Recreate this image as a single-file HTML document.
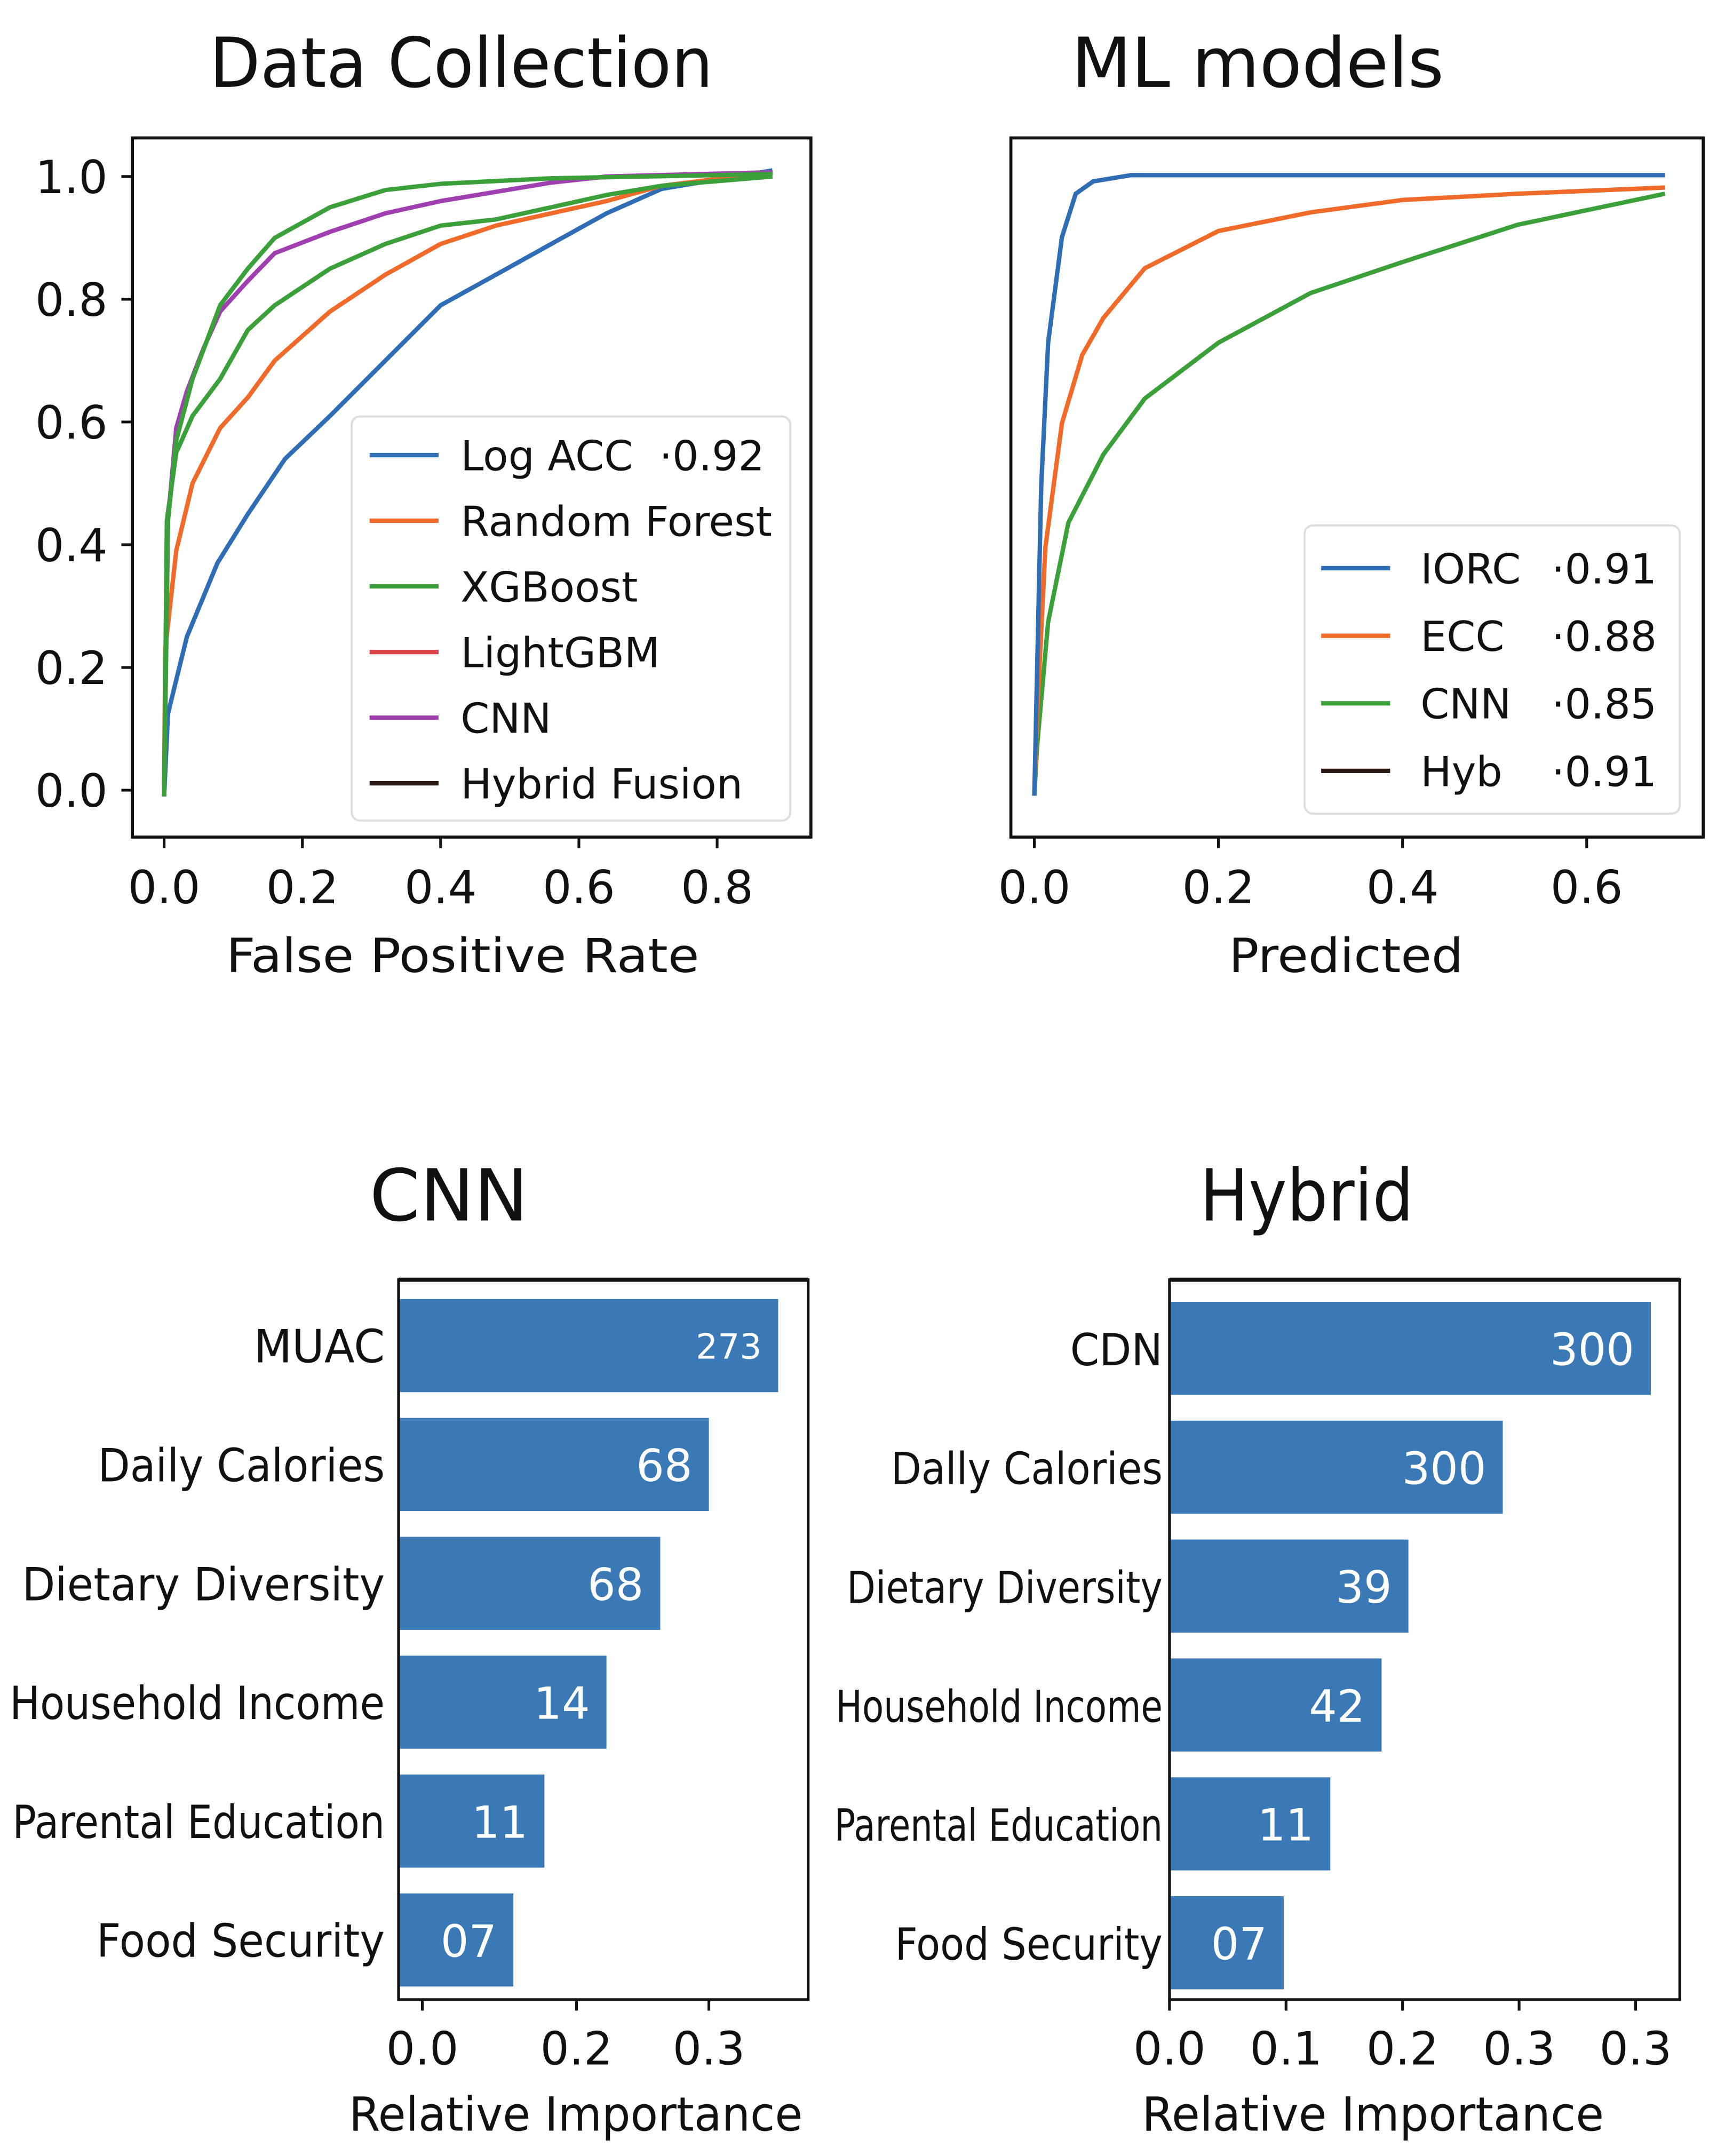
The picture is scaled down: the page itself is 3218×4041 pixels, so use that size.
<!DOCTYPE html>
<html><head><meta charset="utf-8"><style>
html,body{margin:0;padding:0;background:#fff;}
svg{display:block;}
text{font-family:"DejaVu Sans","Liberation Sans",sans-serif;}
</style></head><body>
<svg id="fig" width="3218" height="4041" viewBox="0 0 1245 1563.4" xmlns="http://www.w3.org/2000/svg" fill="#111">
<rect width="1245" height="1564" fill="#fff"/>
<g id="tl">
<text x="152" y="63" font-size="50" textLength="365" lengthAdjust="spacingAndGlyphs">Data Collection</text>
<rect x="96" y="100" width="492" height="507" fill="none" stroke="#111" stroke-width="2.2"/>
<text x="164" y="705" font-size="34" textLength="343" lengthAdjust="spacingAndGlyphs">False Positive Rate</text>
</g>
<g id="tr">
<text x="777" y="63" font-size="50" textLength="270" lengthAdjust="spacingAndGlyphs">ML models</text>
<rect x="733" y="100" width="502" height="507" fill="none" stroke="#111" stroke-width="2.2"/>
<text x="891" y="705" font-size="34" textLength="170" lengthAdjust="spacingAndGlyphs">Predicted</text>
</g>
<g id="bl">
<text x="268" y="885" font-size="52" textLength="115" lengthAdjust="spacingAndGlyphs">CNN</text>
<text x="253" y="1545" font-size="34" textLength="329" lengthAdjust="spacingAndGlyphs">Relative Importance</text>
</g>
<g id="br">
<text x="870" y="885" font-size="52" textLength="155" lengthAdjust="spacingAndGlyphs">Hybrid</text>
<text x="828" y="1545" font-size="34" textLength="335" lengthAdjust="spacingAndGlyphs">Relative Importance</text>
</g>
</svg>
<script>
// ---------- data ----------
const tlLogX=[0,0.0056,0.033,0.077,0.121,0.175,0.24,0.32,0.40,0.48,0.56,0.64,0.72,0.88];
const tlLogY=[-0.01,0.125,0.25,0.37,0.45,0.54,0.61,0.70,0.79,0.84,0.89,0.94,0.98,1.01];
const tlRfX=[0,0.0016,0.0175,0.041,0.081,0.121,0.16,0.24,0.32,0.40,0.48,0.56,0.64,0.72,0.88];
const tlRfY=[-0.01,0.23,0.39,0.50,0.59,0.64,0.70,0.78,0.84,0.89,0.92,0.94,0.96,0.985,1.007];
const tlXgbX=[0,0.0056,0.0175,0.041,0.081,0.121,0.16,0.24,0.32,0.40,0.56,0.88];
const tlXgbY=[-0.01,0.44,0.57,0.67,0.79,0.85,0.90,0.95,0.978,0.988,0.997,1.004];
const tlLgbX=[0,0.004,0.0175,0.041,0.081,0.121,0.16,0.24,0.32,0.40,0.48,0.56,0.64,0.72,0.88];
const tlLgbY=[-0.01,0.44,0.55,0.61,0.67,0.75,0.79,0.85,0.89,0.92,0.93,0.95,0.97,0.985,1.0];
const tlCnnX=[0,0.0056,0.0175,0.033,0.057,0.081,0.121,0.16,0.24,0.32,0.40,0.48,0.56,0.64,0.88];
const tlCnnY=[-0.01,0.44,0.59,0.65,0.72,0.78,0.83,0.875,0.91,0.94,0.96,0.975,0.99,1.0,1.007];
const tlXTicks=[0,0.2,0.4,0.6,0.8];
const tlXTickLabels=["0.0","0.2","0.4","0.6","0.8"];
const tlYTicks=[0,0.2,0.4,0.6,0.8,1.0];
const tlYTickLabels=["0.0","0.2","0.4","0.6","0.8","1.0"];
const tlLegendNames=["Log ACC","Random Forest","XGBoost","LightGBM","CNN","Hybrid Fusion"];
const tlLegendColors=["#2f6db5","#f06a2a","#3ca03a","#d9434a","#a03fb0","#2a1a16"];

const trIorcX=[0,0.0075,0.015,0.03,0.045,0.064,0.105,0.2,0.685];
const trIorcY=[0,0.5,0.73,0.9,0.97,0.99,1.0,1.0,1.0];
const trEccX=[0,0.003,0.012,0.03,0.052,0.075,0.12,0.2,0.3,0.4,0.525,0.685];
const trEccY=[0,0.13,0.4,0.6,0.71,0.77,0.85,0.91,0.94,0.96,0.97,0.98];
const trCnnX=[0,0.003,0.015,0.037,0.075,0.12,0.2,0.3,0.4,0.525,0.685];
const trCnnY=[0,0.08,0.28,0.44,0.55,0.64,0.73,0.81,0.86,0.92,0.97];
const trXTicks=[0,0.2,0.4,0.6];
const trXTickLabels=["0.0","0.2","0.4","0.6"];
const trLegendNames=["IORC","ECC","CNN","Hyb"];
const trLegendScores=["·0.91","·0.88","·0.85","·0.91"];
const trLegendColors=["#2f6db5","#f06a2a","#3ca03a","#2a1a16"];

const cnnCats=["MUAC","Daily Calories","Dietary Diversity","Household Income","Parental Education","Food Security"];
const cnnVals=[0.367,0.30,0.253,0.201,0.141,0.111];
const cnnBarLabels=["273","68","68","14","11","07"];
const cnnTicks=[0.023,0.172,0.30];
const cnnTickLabels=["0.0","0.2","0.3"];

const hybCats=["CDN","Dally Calories","Dietary Diversity","Household Income","Parental Education","Food Security"];
const hybVals=[0.413,0.286,0.205,0.182,0.138,0.098];
const hybBarLabels=["300","300","39","42","11","07"];
const hybTicks=[0,0.1,0.2,0.3,0.4];
const hybTickLabels=["0.0","0.1","0.2","0.3","0.3"];

// layout (text widths, not data)
const cnnCatWidths=[95,208,263,272,270,209];
const hybCatWidths=[67,197,229,237,238,194];

// ---------- helpers ----------
const NS="http://www.w3.org/2000/svg";
function mk(tag,parent,attrs){const e=document.createElementNS(NS,tag);for(const k in attrs)e.setAttribute(k,attrs[k]);parent.appendChild(e);return e;}
function txt(parent,s,attrs){const e=mk('text',parent,attrs);e.textContent=s;return e;}

// ---------- top-left ROC ----------
const tl=document.getElementById('tl');
const tlx=v=>119+v*501.25, tly=v=>573-v*445;
tlXTicks.forEach((v,i)=>{
  const t=mk('line',tl,{x1:tlx(v),x2:tlx(v),y1:607,y2:615,stroke:'#111','stroke-width':2});
  
  
  const l=txt(tl,tlXTickLabels[i],{x:tlx(v),y:655,'font-size':33,'text-anchor':'middle'});
  
  
});
tlYTicks.forEach((v,i)=>{
  const t=mk('line',tl,{x1:88,x2:96,y1:tly(v),y2:tly(v),stroke:'#111','stroke-width':2});
  
  
  const l=txt(tl,tlYTickLabels[i],{x:78,y:tly(v)+12,'font-size':33,'text-anchor':'end'});
  
  
});
function curve(g,xs,ys,sx,sy,color,name){
  const d=xs.map((x,i)=>(i?'L':'M')+sx(x).toFixed(1)+','+sy(ys[i]).toFixed(1)).join(' ');
  const p=mk('path',g,{d:d,fill:'none',stroke:color,'stroke-width':3.2,'stroke-linejoin':'round'});
  
  
}
curve(tl,tlLogX,tlLogY,tlx,tly,tlLegendColors[0],'line-log-acc');
curve(tl,tlRfX,tlRfY,tlx,tly,tlLegendColors[1],'line-random-forest');
curve(tl,tlLgbX,tlLgbY,tlx,tly,tlLegendColors[2],'line-lightgbm');
curve(tl,tlCnnX,tlCnnY,tlx,tly,tlLegendColors[4],'line-cnn');
curve(tl,tlXgbX,tlXgbY,tlx,tly,tlLegendColors[2],'line-xgboost');
const tlLeg=mk('g',tl,{});


mk('rect',tlLeg,{x:255,y:302,width:318,height:293,rx:6,fill:'#fff','fill-opacity':0.9,stroke:'#ddd','stroke-width':1.5});
tlLegendNames.forEach((n,i)=>{
  const y=330+i*47.6;
  const ln=mk('line',tlLeg,{x1:268,x2:318,y1:y,y2:y,stroke:tlLegendColors[i],'stroke-width':3.2});
  
  
  const t=txt(tlLeg,n,{x:334,y:y+11,'font-size':30});
  
  
});
const tlSc=txt(tlLeg,'·0.92',{x:478,y:341,'font-size':30});



// ---------- top-right ----------
const tr=document.getElementById('tr');
const trx=v=>750+v*667.5, try_=v=>577-v*450;
trXTicks.forEach((v,i)=>{
  const t=mk('line',tr,{x1:trx(v),x2:trx(v),y1:607,y2:615,stroke:'#111','stroke-width':2});
  
  
  const l=txt(tr,trXTickLabels[i],{x:trx(v),y:655,'font-size':33,'text-anchor':'middle'});
  
  
});
curve(tr,trCnnX,trCnnY,trx,try_,trLegendColors[2],'line-cnn');
curve(tr,trEccX,trEccY,trx,try_,trLegendColors[1],'line-ecc');
curve(tr,trIorcX,trIorcY,trx,try_,trLegendColors[0],'line-iorc');
const trLeg=mk('g',tr,{});


mk('rect',trLeg,{x:946,y:381,width:272,height:209,rx:6,fill:'#fff','fill-opacity':0.9,stroke:'#ddd','stroke-width':1.5});
trLegendNames.forEach((n,i)=>{
  const y=412+i*49;
  const ln=mk('line',trLeg,{x1:958,x2:1008,y1:y,y2:y,stroke:trLegendColors[i],'stroke-width':3.2});
  
  
  const t=txt(trLeg,n,{x:1030,y:y+11,'font-size':30});
  
  
  const s=txt(trLeg,trLegendScores[i],{x:1125,y:y+11,'font-size':30});
  
  
});

// ---------- bar charts ----------
function bars(g,cats,vals,labels,ticks,tickLabels,box,x0,k,barTops,catRight,fontCat,widths){
  const sx=v=>x0+v*k;
  const fr=mk('rect',g,{x:box[0],y:box[1],width:box[2],height:box[3],fill:'none',stroke:'#111','stroke-width':2});
  
  
  mk('line',g,{x1:box[0],x2:box[0]+box[2],y1:box[1],y2:box[1],stroke:'#111','stroke-width':3});
  cats.forEach((c,i)=>{
    const y=barTops+i*86.2;
    const b=mk('rect',g,{x:box[0]+1,y:y,width:sx(vals[i])-box[0]-1,height:67.5,fill:'#3a79b5'});
    
    
    const fs=(labels[i]==='273')?25:32;
    const v=txt(g,labels[i],{x:sx(vals[i])-12,y:y+34+fs*0.37,'font-size':fs,'text-anchor':'end',fill:'#ffffff',style:'fill:#ffffff'});
    
    
    const l=txt(g,c,{x:catRight-widths[i],y:y+34+12,'font-size':fontCat,textLength:widths[i],lengthAdjust:'spacingAndGlyphs'});
    
    
  });
  ticks.forEach((v,i)=>{
    const t=mk('line',g,{x1:sx(v),x2:sx(v),y1:box[1]+box[3],y2:box[1]+box[3]+8,stroke:'#111','stroke-width':2});
    
    
    const l=txt(g,tickLabels[i],{x:sx(v),y:1497,'font-size':33,'text-anchor':'middle'});
    
    
  });
}
bars(document.getElementById('bl'),cnnCats,cnnVals,cnnBarLabels,cnnTicks,cnnTickLabels,[289,928,297,522],289,750,942,279,33,cnnCatWidths);
bars(document.getElementById('br'),hybCats,hybVals,hybBarLabels,hybTicks,hybTickLabels,[848,928,370,522],848,845,944,843,32,hybCatWidths);
</script>
</body></html>
